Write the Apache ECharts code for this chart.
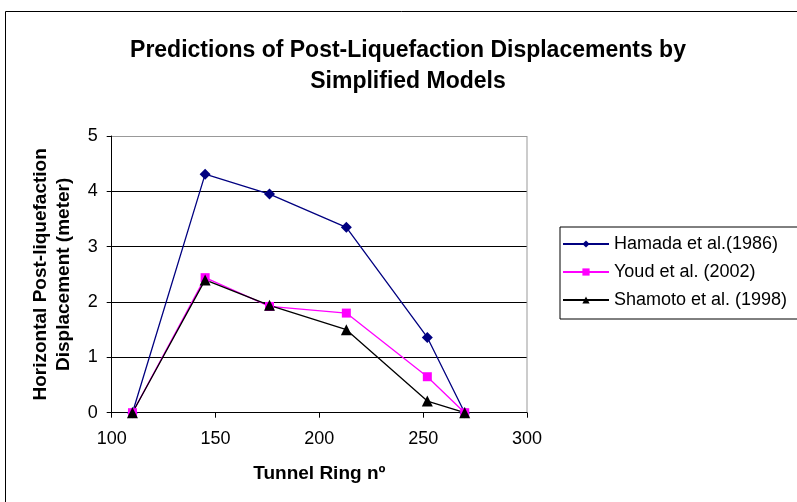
<!DOCTYPE html>
<html><head><meta charset="utf-8">
<script src="https://cdn.jsdelivr.net/npm/echarts@6/dist/echarts.min.js"></script>
<style>html,body{margin:0;padding:0;background:#fff}#c{width:797px;height:502px}</style>
</head><body><div id="c"></div>
<script>
var ringX = [110, 145, 176, 213, 252, 270];
var hamada = [0, 4.31, 3.95, 3.35, 1.36, 0];
var youd = [0, 2.44, 1.92, 1.80, 0.65, 0];
var shamoto = [0, 2.40, 1.94, 1.50, 0.21, 0];
var seriesNames = ['Hamada et al.(1986)', 'Youd et al. (2002)', 'Shamoto et al. (1998)'];
var titleText = 'Predictions of Post-Liquefaction Displacements by\nSimplified Models';
var xName = 'Tunnel Ring n\u00ba';
var yName = 'Horizontal Post-liquefaction\nDisplacement (meter)';

function pairs(ys){ return ringX.map(function(x,i){ return [x, ys[i]]; }); }
var font = 'Liberation Sans, Arial, sans-serif';
var chart = echarts.init(document.getElementById('c'));
chart.setOption({
  animation: false,
  backgroundColor: '#fff',
  textStyle: { fontFamily: font },
  title: {
    text: titleText, left: 408, top: 35, textAlign: 'center', padding: 0,
    textStyle: { fontFamily: font, fontSize: 23, fontWeight: 'bold', color: '#000', lineHeight: 31 }
  },
  legend: {
    orient: 'vertical', left: 560, top: 227,
    borderColor: '#000', borderWidth: 1, borderRadius: 0,
    padding: [8, 40, 10, 2], itemGap: 10, itemWidth: 46, itemHeight: 9,
    textStyle: { fontFamily: font, fontSize: 18, color: '#000' },
    data: seriesNames
  },
  grid: { left: 111.7, right: 270, top: 136, bottom: 89.3 },
  xAxis: {
    type: 'value', min: 100, max: 300, interval: 50,
    name: xName, nameLocation: 'middle', nameGap: 52,
    nameTextStyle: { fontFamily: font, fontSize: 19, fontWeight: 'bold', color: '#000' },
    axisLine: { lineStyle: { color: '#000', width: 1 } },
    axisTick: { show: true, length: 5, lineStyle: { color: '#000' } },
    axisLabel: { fontFamily: font, fontSize: 18, color: '#000', margin: 17 },
    splitLine: { show: false }
  },
  yAxis: {
    type: 'value', min: 0, max: 5, interval: 1,
    name: yName, nameLocation: 'middle', nameGap: 36, nameRotate: 90,
    nameTextStyle: { fontFamily: font, fontSize: 19, fontWeight: 'bold', color: '#000', lineHeight: 23 },
    axisLine: { show: true, lineStyle: { color: '#000', width: 1 } },
    axisTick: { show: true, length: 5, lineStyle: { color: '#000' } },
    axisLabel: { fontFamily: font, fontSize: 18, color: '#000', margin: 14 },
    splitLine: { show: true, lineStyle: { color: ['#000', '#000', '#000', '#000', '#000', '#999'], width: 1 } }
  },
  series: [
    { name: seriesNames[0], type: 'line', data: pairs(hamada), symbol: 'diamond', symbolSize: 11,
      itemStyle: { color: '#000080' }, lineStyle: { color: '#000080', width: 1.3 } },
    { name: seriesNames[1], type: 'line', data: pairs(youd), symbol: 'rect', symbolSize: 9,
      itemStyle: { color: '#ff00ff' }, lineStyle: { color: '#ff00ff', width: 1.3 } },
    { name: seriesNames[2], type: 'line', data: pairs(shamoto), symbol: 'triangle', symbolSize: 11,
      itemStyle: { color: '#000' }, lineStyle: { color: '#000', width: 1.3 } }
  ]
});
var p1 = chart.convertToPixel({gridIndex:0}, [300, 0]);
var p2 = chart.convertToPixel({gridIndex:0}, [300, 5]);
chart.setOption({ graphic: [{
    type: 'rect', shape: { x: 5.5, y: 11.5, width: 900, height: 600 },
    style: { fill: 'none', stroke: '#000', lineWidth: 1 }, silent: true, z: -1
  }, {
    type: 'line', shape: { x1: p1[0], y1: p1[1], x2: p2[0], y2: p2[1] },
    style: { stroke: '#999', lineWidth: 1 }, silent: true
  }] });
</script></body></html>
